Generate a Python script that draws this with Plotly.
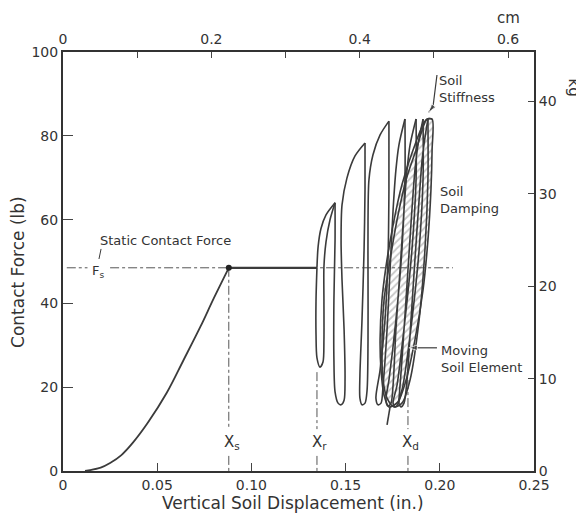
import plotly.graph_objects as go

# ---------------- data (inches / pounds) ----------------
LB_TO_KG = 0.45359237
IN_TO_CM = 2.54

X_TICKS = [0, 0.05, 0.10, 0.15, 0.20, 0.25]
X_TICK_TEXT = ["0", "0.05", "0.10", "0.15", "0.20", "0.25"]
F_TICKS = [0, 20, 40, 60, 80, 100]
CM_TICKS = [0, 0.2, 0.4, 0.6]
CM_MINOR = [0.1, 0.3, 0.5]
KG_TICKS = [0, 10, 20, 30, 40]

F_S = 48.5      # static contact force (lb)
X_S = 0.088     # static displacement
X_R = 0.1348    # displacement at start of vibration
X_D = 0.1831    # dynamic displacement

# initial static loading curve
LOAD_X = [0.0117, 0.020, 0.025, 0.031, 0.037, 0.045, 0.055, 0.064, 0.073, 0.080, 0.088]
LOAD_F = [0.0, 0.8, 1.9, 3.8, 6.7, 11.5, 18.6, 26.5, 34.5, 41.2, 48.5]

# slide at constant force
SLIDE_X = [0.088, 0.1348]
SLIDE_F = [48.5, 48.5]

# hysteresis cycles (drop from previous peak, valley, rise to next peak)
C1A_X = [0.1348, 0.1354, 0.1369, 0.1396, 0.1444]
C1A_F = [48.5, 53.5, 57.8, 61.1, 64.0]
C1B_X = [0.1348, 0.1343, 0.1343, 0.1348, 0.1364, 0.1380, 0.1385, 0.1385, 0.1385, 0.1396, 0.1417, 0.1444]
C1B_F = [48.5, 40.8, 32.5, 27.0, 24.8, 26.0, 31.3, 40.8, 48.7, 54.7, 59.9, 64.0]
C2_X = [0.1444, 0.1444, 0.1438, 0.1438, 0.1444, 0.1460, 0.1476, 0.1492, 0.1497, 0.1492, 0.1481, 0.1476, 0.1481, 0.1507, 0.1550, 0.1603]
C2_F = [64.0, 55.1, 40.8, 26.5, 18.9, 16.2, 15.8, 16.9, 21.7, 33.7, 45.6, 55.1, 63.5, 69.9, 75.2, 78.3]
C3_X = [0.1603, 0.1603, 0.1598, 0.1587, 0.1576, 0.1576, 0.1587, 0.1603, 0.1614, 0.1619, 0.1619, 0.1619, 0.1624, 0.1645, 0.1683, 0.1730]
C3_F = [78.3, 67.1, 52.7, 36.0, 22.9, 17.4, 15.8, 16.2, 19.3, 31.3, 45.6, 59.9, 69.5, 75.4, 80.2, 83.5]
C4_X = [0.1730, 0.1730, 0.1725, 0.1709, 0.1683, 0.1661, 0.1672, 0.1688, 0.1699, 0.1720, 0.1736, 0.1752, 0.1767, 0.1783, 0.1815]
C4_F = [83.5, 67.1, 50.4, 36.0, 24.1, 17.4, 15.8, 16.2, 20.5, 33.7, 48.0, 62.3, 71.8, 77.8, 84.0]
C5_X = [0.1815, 0.1815, 0.1799, 0.1767, 0.1730, 0.1714, 0.1725, 0.1741, 0.1752, 0.1767, 0.1789, 0.1810, 0.1826, 0.1842, 0.1874]
C5_F = [84.0, 69.5, 52.7, 36.0, 21.7, 16.9, 15.5, 16.2, 20.5, 33.7, 48.0, 62.3, 71.8, 77.8, 84.0]
C6_X = [0.1874, 0.1874, 0.1852, 0.1815, 0.1773, 0.1752, 0.1762, 0.1778, 0.1789, 0.1810, 0.1831, 0.1852, 0.1868, 0.1884, 0.1911]
C6_F = [84.0, 69.5, 52.7, 36.0, 20.5, 16.2, 15.3, 16.0, 20.5, 33.7, 48.0, 62.3, 71.8, 77.8, 84.0]
C7_X = [0.1911, 0.1911, 0.1890, 0.1852, 0.1805, 0.1783, 0.1794, 0.1810, 0.1826, 0.1847, 0.1868, 0.1890, 0.1906, 0.1921, 0.1937]
C7_F = [84.0, 69.5, 52.7, 36.0, 20.5, 16.2, 15.3, 16.2, 21.7, 36.0, 50.4, 64.7, 74.2, 79.5, 84.0]
C8_X = [0.1937, 0.1937, 0.1921, 0.1890, 0.1842, 0.1799, 0.1757, 0.1720, 0.1699, 0.1693, 0.1704, 0.1730, 0.1773, 0.1821, 0.1874, 0.1932, 0.1959]
C8_F = [84.0, 69.5, 52.7, 36.0, 21.7, 16.2, 15.3, 17.4, 21.7, 28.9, 40.8, 48.7, 59.9, 69.5, 76.6, 84.0, 84.0]

# moving soil element (hatched final loop)
ELEM_X = [0.1730, 0.1704, 0.1688, 0.1683, 0.1693, 0.1714, 0.1752, 0.1799, 0.1858, 0.1927,
          0.1959, 0.1959, 0.1953, 0.1937, 0.1911, 0.1868, 0.1821, 0.1778, 0.1730]
ELEM_F = [15.3, 18.1, 24.1, 31.3, 40.8, 48.7, 58.7, 68.3, 76.6, 83.8,
          84.0, 76.6, 67.1, 55.1, 43.2, 31.3, 21.7, 16.5, 15.3]

TAIL_X = [0.1720, 0.1736]
TAIL_F = [11.0, 15.3]

# arrows (tail -> tip)
ARROW_ELEM_X = [0.1985, 0.1836]
ARROW_ELEM_F = [29.4, 29.4]
ARROW_STIFF_X = [0.1985, 0.1964, 0.1940]
ARROW_STIFF_F = [94.5, 87.0, 85.6]

LINE = "#3b3b3b"
TXT = "#333333"
FONT = "DejaVu Sans"

fig = go.Figure()

# hatched moving soil element
fig.add_trace(go.Scatter(
    x=ELEM_X, y=ELEM_F, mode="lines", fill="toself",
    fillcolor="rgba(255,255,255,0)",
    fillpattern=dict(shape="/", fgcolor="#8f8f8f", bgcolor="rgba(255,255,255,0)", size=5, solidity=0.35),
    line=dict(color=LINE, width=1.6, shape="spline", smoothing=0.8),
    hoverinfo="skip", showlegend=False))

# reference dash-dot lines
DD_X = [0.002, 0.013, None, 0.025, 0.207, None,
        X_S, X_S, None, X_S, X_S, None,
        X_R, X_R, None, X_R, X_R, None,
        X_D, X_D, None, X_D, X_D]
DD_F = [F_S, F_S, None, F_S, F_S, None,
        F_S, 10.0, None, 3.6, 0.0, None,
        23.6, 10.0, None, 3.6, 0.0, None,
        21.7, 10.0, None, 3.6, 0.0]
fig.add_trace(go.Scatter(x=DD_X, y=DD_F, mode="lines",
                         line=dict(color="#555555", width=1, dash="dashdot"),
                         hoverinfo="skip", showlegend=False))

# loading curve and slide
fig.add_trace(go.Scatter(x=LOAD_X, y=LOAD_F, mode="lines",
                         line=dict(color=LINE, width=1.8, shape="spline"),
                         hoverinfo="skip", showlegend=False))
fig.add_trace(go.Scatter(x=SLIDE_X, y=SLIDE_F, mode="lines",
                         line=dict(color=LINE, width=2.2),
                         hoverinfo="skip", showlegend=False))
fig.add_trace(go.Scatter(x=[X_S], y=[F_S], mode="markers",
                         marker=dict(color="#222", size=6),
                         hoverinfo="skip", showlegend=False))

for cx, cf in [(C1A_X, C1A_F), (C1B_X, C1B_F), (C2_X, C2_F), (C3_X, C3_F),
               (C4_X, C4_F), (C5_X, C5_F), (C6_X, C6_F), (C7_X, C7_F),
               (C8_X, C8_F), (TAIL_X, TAIL_F)]:
    fig.add_trace(go.Scatter(x=cx, y=cf, mode="lines",
                             line=dict(color=LINE, width=1.6, shape="spline", smoothing=0.8),
                             hoverinfo="skip", showlegend=False))

# small leader from label to F_s
fig.add_trace(go.Scatter(x=[0.0202, 0.0191], y=[53.0, 50.6], mode="lines",
                         line=dict(color=LINE, width=1), hoverinfo="skip", showlegend=False))

# arrows
for ax_, af_ in [(ARROW_ELEM_X, ARROW_ELEM_F), (ARROW_STIFF_X, ARROW_STIFF_F)]:
    n = len(ax_)
    fig.add_trace(go.Scatter(x=ax_, y=af_, mode="lines+markers",
                             line=dict(color=LINE, width=1.2),
                             marker=dict(symbol=["circle"] * (n - 1) + ["arrow"],
                                         size=[0] * (n - 1) + [9], angleref="previous",
                                         color=LINE),
                             hoverinfo="skip", showlegend=False))

# dummy trace for secondary axes
fig.add_trace(go.Scatter(x=[0, 0.25 * IN_TO_CM], y=[0, 100 * LB_TO_KG], xaxis="x2", yaxis="y2",
                         mode="markers", marker=dict(opacity=0), hoverinfo="skip", showlegend=False))

axis_common = dict(showgrid=False, zeroline=False, showline=True, linecolor="#333",
                   linewidth=2, ticks="inside", tickcolor="#444", tickwidth=1.2,
                   automargin=False,
                   tickfont=dict(family=FONT, size=14, color=TXT))

fig.update_layout(
    width=576, height=513,
    margin=dict(l=55, r=50, t=44, b=50),
    paper_bgcolor="white", plot_bgcolor="white",
    font=dict(family=FONT, color=TXT),
    xaxis=dict(range=[0, 0.25], tickvals=X_TICKS, ticktext=X_TICK_TEXT, ticklen=8, **axis_common),
    yaxis=dict(range=[0, 100], tickvals=F_TICKS, ticklen=10, **axis_common),
    xaxis2=dict(range=[0, 0.25 * IN_TO_CM], overlaying="x", side="top", anchor="y",
                tickvals=CM_TICKS, ticktext=["0", "0.2", "0.4", "0.6"], ticklen=6,
                minor=dict(tickvals=CM_MINOR, ticks="inside", ticklen=6, tickcolor="#444"),
                **axis_common),
    yaxis2=dict(range=[0, 100 * LB_TO_KG], overlaying="y", side="right", anchor="x",
                tickvals=KG_TICKS, ticklen=6, **axis_common),
)

ann = []
def txt(text, x, y, size=12.5, xref="x", yref="y", xanchor="center", yanchor="middle", angle=0, align="left"):
    ann.append(dict(text=text, x=x, y=y, xref=xref, yref=yref, xanchor=xanchor, yanchor=yanchor,
                    showarrow=False, textangle=angle, align=align,
                    font=dict(family=FONT, size=size, color=TXT)))

txt("Vertical Soil Displacement (in.)", 0.488, -0.076, size=17, xref="paper", yref="paper")
txt("Contact Force (lb)", -0.0955, 0.475, size=17, xref="paper", yref="paper", angle=-90)
txt("cm", 0.6, 1.081, size=15, xref="x2", yref="paper")
txt("kg", 1.085, 41.5, size=15, xref="paper", yref="y2", angle=90)
txt("Static Contact Force", 0.0545, 55.1, size=13)
txt("F<sub>s</sub>", 0.0185, 47.6, size=13)
txt("X<sub>s</sub>", 0.0897, 6.7, size=15)
txt("X<sub>r</sub>", 0.1364, 6.7, size=15)
txt("X<sub>d</sub>", 0.1842, 6.7, size=15)
txt("Soil<br>Stiffness", 0.1985, 91.2, size=13, xanchor="left")
txt("Soil<br>Damping", 0.199, 64.7, size=13, xanchor="left")
txt("Moving<br>Soil Element", 0.1996, 26.8, size=13, xanchor="left")
fig.update_layout(annotations=ann)

fig.write_html("out.html")
